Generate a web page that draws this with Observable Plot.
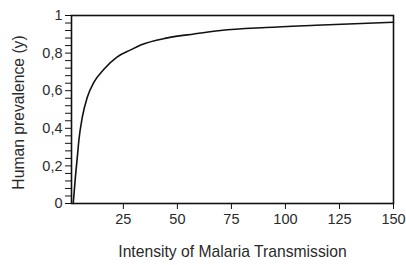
<!DOCTYPE html>
<html><head><meta charset="utf-8">
<script src="https://cdn.jsdelivr.net/npm/d3@7"></script>
<script src="https://cdn.jsdelivr.net/npm/@observablehq/plot@0.6"></script>
<style>body{margin:0;background:#fff}</style>
</head><body><div id="chart"></div>
<script>
const intensity  = [1.8, 2.8, 3.8, 4.4, 6.0, 8.3, 11.4, 16, 22.2, 28.4, 33, 45.4, 57.7, 70, 91, 114, 150];
const prevalence = [0, 0.14, 0.26, 0.335, 0.459, 0.565, 0.645, 0.714, 0.78, 0.817, 0.843, 0.881, 0.902, 0.92, 0.936, 0.948, 0.964];
const xTicks = [25, 50, 75, 100, 125, 150];
const yTicks = [0, 0.2, 0.4, 0.6, 0.8, 1];
const yMinorTicks = [0.04, 0.08, 0.12, 0.16, 0.24, 0.28, 0.32, 0.36, 0.44, 0.48, 0.52, 0.56, 0.64, 0.68, 0.72, 0.76, 0.84, 0.88, 0.92, 0.96];
const xTitle = "Intensity of Malaria Transmission";
const yTitle = "Human prevalence (y)";

const data = intensity.map((x, i) => ({x, y: prevalence[i]}));

const chart = Plot.plot({
  width: 406, height: 265,
  marginLeft: 71, marginRight: 13, marginTop: 15, marginBottom: 62,
  style: {fontFamily: "'Liberation Sans', Arial, sans-serif", fontSize: "14.5px", color: "#2a2a2a", background: "#fff"},
  x: {domain: [1, 150]},
  y: {domain: [0, 1]},
  marks: [
    Plot.axisY(yMinorTicks, {tickSize: 6, text: null, label: null, stroke: "#111"}),
    Plot.axisY(yTicks, {tickSize: 6, tickPadding: 3, stroke: "#111", fontSize: 14.5,
      tickFormat: d => String(d).replace(".", ","), label: null}),
    Plot.axisX(xTicks, {tickSize: 6, tickPadding: 4, stroke: "#111", fontSize: 14.5, label: null}),
    Plot.text([yTitle], {frameAnchor: "left", textAnchor: "middle", lineAnchor: "middle", rotate: -90, dx: -53, dy: 3, fontSize: 15.7, fill: "#2a2a2a"}),
    Plot.text([xTitle], {frameAnchor: "bottom", textAnchor: "middle", dy: 53, fontSize: 15.7, fill: "#2a2a2a"}),
    Plot.line(data, {x: "x", y: "y", curve: "monotone-x", strokeWidth: 1.6, stroke: "#111"}),
    Plot.frame({stroke: "#111", strokeWidth: 1.6})
  ]
});
document.getElementById("chart").appendChild(chart);
</script>
</body></html>
